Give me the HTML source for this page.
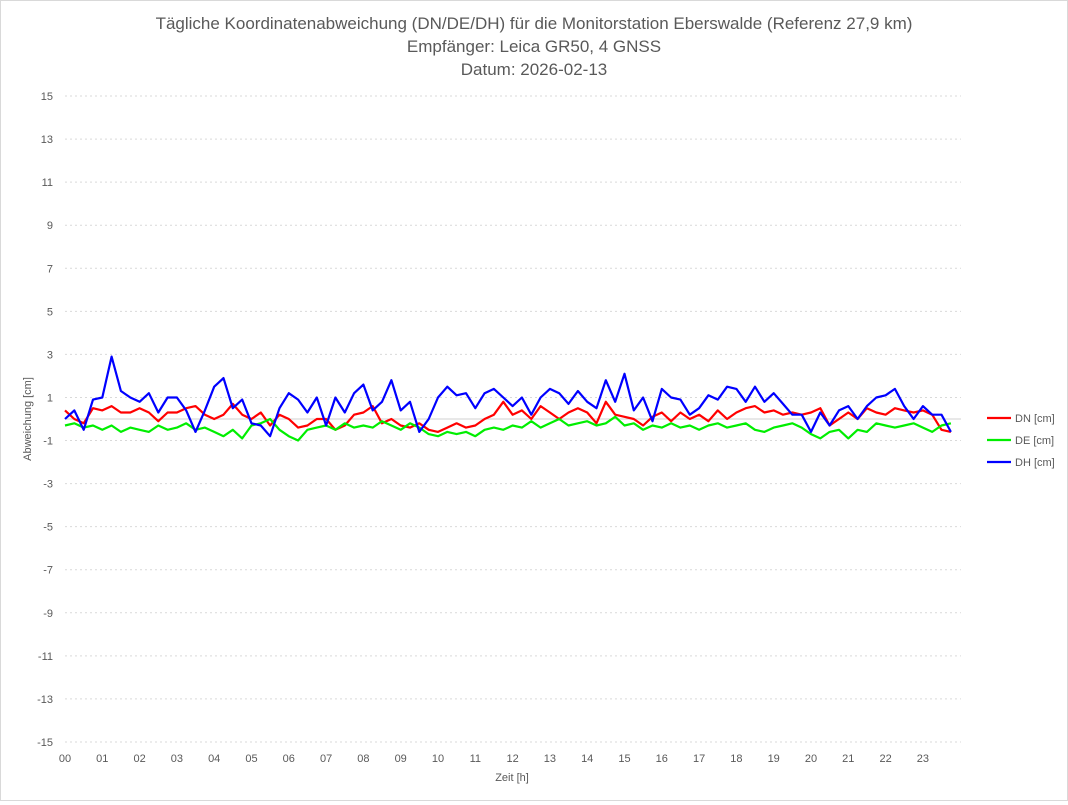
<!DOCTYPE html>
<html><head><meta charset="utf-8"><style>
body{margin:0;background:#fff;font-family:"Liberation Sans",sans-serif}
#wrap{position:relative;width:1066px;height:799px;border:1px solid #d9d9d9;background:#fff}
</style></head><body>
<div id="wrap">
<svg id="chart" width="1066" height="799" xmlns="http://www.w3.org/2000/svg" font-family="Liberation Sans, sans-serif">
<g fill="#595959" font-size="17" text-anchor="middle">
<text x="533" y="28">Tägliche Koordinatenabweichung (DN/DE/DH) für die Monitorstation Eberswalde (Referenz 27,9 km)</text>
<text x="533" y="51">Empfänger: Leica GR50, 4 GNSS</text>
<text x="533" y="74">Datum: 2026-02-13</text>
</g>
<g id="grid"></g>
<g id="yt" fill="#595959" font-size="11" text-anchor="end"></g>
<g id="xt" fill="#595959" font-size="11" text-anchor="middle"></g>
<text x="511" y="780" fill="#595959" font-size="11" text-anchor="middle">Zeit [h]</text>
<text transform="translate(30,418) rotate(-90)" fill="#595959" font-size="11" text-anchor="middle">Abweichung [cm]</text>
<g id="series"></g>
<g id="legend" font-size="11" fill="#595959"></g>
</svg>
</div>
<script>
const yTicks=[15,13,11,9,7,5,3,1,-1,-3,-5,-7,-9,-11,-13,-15];
const xLabels=["00","01","02","03","04","05","06","07","08","09","10","11","12","13","14","15","16","17","18","19","20","21","22","23"];
const seriesNames=["DN [cm]","DE [cm]","DH [cm]"];
const dn=[0.4,0.0,-0.2,0.5, 0.4,0.6,0.3,0.3, 0.5,0.3,-0.1,0.3, 0.3,0.5,0.6,0.2, 0.0,0.2,0.7,0.2, 0.0,0.3,-0.3,0.2, 0.0,-0.4,-0.3,0.0, 0.0,-0.5,-0.3,0.2, 0.3,0.6,-0.2,0.0, -0.3,-0.4,-0.2,-0.5, -0.6,-0.4,-0.2,-0.4, -0.3,0.0,0.2,0.8, 0.2,0.4,0.0,0.6, 0.3,0.0,0.3,0.5, 0.3,-0.2,0.8,0.2, 0.1,0.0,-0.3,0.1, 0.3,-0.1,0.3,0.0, 0.2,-0.1,0.4,0.0, 0.3,0.5,0.6,0.3, 0.4,0.2,0.3,0.2, 0.3,0.5,-0.3,0.0, 0.3,0.0,0.5,0.3, 0.2,0.5,0.4,0.3, 0.4,0.2,-0.5,-0.6];
const de=[-0.3,-0.2,-0.4,-0.3, -0.5,-0.3,-0.6,-0.4, -0.5,-0.6,-0.3,-0.5, -0.4,-0.2,-0.5,-0.4, -0.6,-0.8,-0.5,-0.9, -0.3,-0.2,0.0,-0.5, -0.8,-1.0,-0.5,-0.4, -0.3,-0.5,-0.2,-0.4, -0.3,-0.4,-0.1,-0.3, -0.5,-0.2,-0.4,-0.7, -0.8,-0.6,-0.7,-0.6, -0.8,-0.5,-0.4,-0.5, -0.3,-0.4,-0.1,-0.4, -0.2,0.0,-0.3,-0.2, -0.1,-0.3,-0.2,0.1, -0.3,-0.2,-0.5,-0.3, -0.4,-0.2,-0.4,-0.3, -0.5,-0.3,-0.2,-0.4, -0.3,-0.2,-0.5,-0.6, -0.4,-0.3,-0.2,-0.4, -0.7,-0.9,-0.6,-0.5, -0.9,-0.5,-0.6,-0.2, -0.3,-0.4,-0.3,-0.2, -0.4,-0.6,-0.3,-0.2];
const dh=[0,0.4,-0.5,0.9, 1.0,2.9,1.3,1.0, 0.8,1.2,0.3,1.0, 1.0,0.4,-0.6,0.4, 1.5,1.9,0.5,0.9, -0.2,-0.3,-0.8,0.5, 1.2,0.9,0.3,1.0, -0.3,1.0,0.3,1.2, 1.6,0.4,0.8,1.8, 0.4,0.8,-0.6,0.0, 1.0,1.5,1.1,1.2, 0.5,1.2,1.4,1.0, 0.6,1.0,0.2,1.0, 1.4,1.2,0.7,1.3, 0.8,0.5,1.8,0.8, 2.1,0.4,1.0,-0.1, 1.4,1.0,0.9,0.2, 0.5,1.1,0.9,1.5, 1.4,0.8,1.5,0.8, 1.2,0.7,0.2,0.2, -0.6,0.3,-0.3,0.4, 0.6,0.0,0.6,1.0, 1.1,1.4,0.6,0.0, 0.6,0.2,0.2,-0.6];
const colors=["#ff0000","#00ee00","#0000ff"];
const X0=64,XH=37.3,Y0=418,YU=21.53;
const xs=h=>X0+h*XH, ys=v=>Y0-v*YU;
const NS="http://www.w3.org/2000/svg";
function mk(t,a,p){const e=document.createElementNS(NS,t);for(const k in a)e.setAttribute(k,a[k]);p.appendChild(e);return e;}
const grid=document.getElementById('grid'),yt=document.getElementById('yt'),xt=document.getElementById('xt');
yTicks.forEach(v=>{
 const l=mk('line',{x1:X0,x2:960,y1:ys(v),y2:ys(v),stroke:'#d9d9d9','stroke-dasharray':'2,3'},grid);
 
 
 const t=mk('text',{x:52,y:ys(v)+4},yt);t.textContent=v;
 
 
});
const z=mk('line',{x1:X0,x2:960,y1:ys(0),y2:ys(0),stroke:'#d0d0d0'},grid);


xLabels.forEach((s,i)=>{const t=mk('text',{x:xs(i),y:761},xt);t.textContent=s;
 
 });
const ser=document.getElementById('series');
[dn,de,dh].forEach((arr,k)=>{
 const pts=arr.map((v,i)=>xs(Math.min(i*0.25,23.92)).toFixed(1)+','+ys(v).toFixed(1)).join(' ');
 const p=mk('polyline',{points:pts,fill:'none',stroke:colors[k],'stroke-width':2.2,'stroke-linejoin':'round'},ser);
 
 
});
const lg=document.getElementById('legend');
seriesNames.forEach((s,k)=>{
 const y=417+k*22;
 const l=mk('line',{x1:986,x2:1010,y1:y,y2:y,stroke:colors[k],'stroke-width':2.2},lg);
 
 
 const t=mk('text',{x:1014,y:y+4},lg);t.textContent=s;
 
 
});
</script>
</body></html>
